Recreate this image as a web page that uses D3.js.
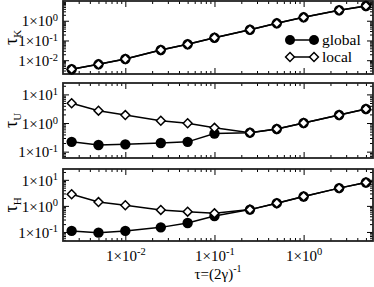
<!DOCTYPE html>
<html>
<head>
<meta charset="utf-8">
<script src="https://cdn.jsdelivr.net/npm/d3@7"></script>
<style>
  body { margin: 0; background: #fff; }
  svg { display: block; font-family: "Liberation Serif", "Times New Roman", serif; }
</style>
</head>
<body>
<div class="chart"></div>
<script>
const tau = [0.0025, 0.005, 0.01, 0.025, 0.05, 0.1, 0.25, 0.5, 1, 2.5, 5];

const kGlobal = [0.0035, 0.0062, 0.0115, 0.033, 0.064, 0.138, 0.35, 0.74, 1.49, 3.4, 5.6];
const kLocal  = [0.0035, 0.0062, 0.0115, 0.033, 0.064, 0.138, 0.35, 0.74, 1.49, 3.4, 5.6];

const uGlobal = [0.22, 0.17, 0.18, 0.20, 0.22, 0.43, 0.46, 0.62, 1.0, 1.9, 3.1];
const uLocal  = [4.9, 2.7, 1.9, 1.2, 0.98, 0.68, 0.46, 0.62, 1.0, 1.9, 3.1];

const hGlobal = [0.11, 0.094, 0.11, 0.15, 0.22, 0.41, 0.72, 1.27, 2.3, 4.8, 7.9];
const hLocal  = [2.8, 1.4, 1.06, 0.70, 0.60, 0.52, 0.72, 1.27, 2.3, 4.8, 7.9];

const xTicks = [0.01, 0.1, 1];
const legendLabels = ['global', 'local'];

const panels = [
  {name: 'K', top: 1, bottom: 74, domain: [0.002, 10], ticks: [0.01, 0.1, 1], global: kGlobal, local: kLocal},
  {name: 'U', top: 83, bottom: 158, domain: [0.06, 25], ticks: [0.1, 1, 10], global: uGlobal, local: uLocal},
  {name: 'H', top: 169, bottom: 241, domain: [0.045, 26], ticks: [0.1, 1, 10], global: hGlobal, local: hLocal}
];

const width = 374, height = 287;
const left = 63, right = 373;

const svg = d3.select('.chart').append('svg')
  .attr('width', width)
  .attr('height', height);

const x = d3.scaleLog().domain([0.002, 6]).range([left, right]);

function minorTicks(domain) {
  const out = [];
  for (let e = -4; e <= 2; e++) {
    for (let m = 2; m <= 9; m++) {
      const v = m * Math.pow(10, e);
      if (v > domain[0] && v < domain[1]) out.push(v);
    }
  }
  return out;
}

function exponentLabel(sel) {
  sel.each(function(d) {
    const t = d3.select(this);
    const e = Math.round(Math.log10(d));
    t.text(null);
    t.append('tspan').style('font-size', '15px').text('1\u00d710');
    t.append('tspan').attr('dy', '-0.5em').style('font-size', '10.5px').text(e);
  });
}

function styleAxis(g) {
  g.select('.domain').remove();
  g.selectAll('.tick line').attr('stroke', '#000').attr('stroke-width', 1);
}

const line = d3.line();
const diamond = d3.symbol().type(d3.symbolDiamond2).size(50);

panels.forEach((p, i) => {
  const y = d3.scaleLog().domain(p.domain).range([p.bottom, p.top]);
  const minors = minorTicks(p.domain);
  const xMinor = minorTicks(x.domain());

  // ticks on all four sides, pointing inward
  const axes = [
    [d3.axisBottom(x).tickValues(xTicks).tickSize(-6), `translate(0,${p.bottom})`],
    [d3.axisBottom(x).tickValues(xMinor).tickSize(-3), `translate(0,${p.bottom})`],
    [d3.axisTop(x).tickValues(xTicks).tickSize(-6), `translate(0,${p.top})`],
    [d3.axisTop(x).tickValues(xMinor).tickSize(-3), `translate(0,${p.top})`],
    [d3.axisLeft(y).tickValues(p.ticks).tickSize(-6).tickPadding(5), `translate(${left},0)`],
    [d3.axisLeft(y).tickValues(minors).tickSize(-3), `translate(${left},0)`],
    [d3.axisRight(y).tickValues(p.ticks).tickSize(-6), `translate(${right},0)`],
    [d3.axisRight(y).tickValues(minors).tickSize(-3), `translate(${right},0)`]
  ];
  axes.forEach(([ax, tr], j) => {
    const g = svg.append('g').attr('transform', tr).call(ax).call(styleAxis);
    g.attr('font-family', null).attr('font-size', 15);
    g.selectAll('text').text('');
    if (j === 4) {
      g.selectAll('.tick text')
        .attr('fill', '#000')
        .attr('dy', '0.35em')
        .call(exponentLabel);
    }
    if (j === 0 && i === panels.length - 1) {
      g.selectAll('.tick text')
        .attr('fill', '#000')
        .attr('y', 6)
        .attr('dy', '0.9em')
        .call(exponentLabel);
    }
  });

  svg.append('rect')
    .attr('x', left).attr('y', p.top)
    .attr('width', right - left).attr('height', p.bottom - p.top)
    .attr('fill', 'none').attr('stroke', '#222').attr('stroke-width', 1.8);

  // y title
  const yt = svg.append('text')
    .attr('transform', `translate(17,${(p.top + p.bottom) / 2}) rotate(-90)`)
    .attr('text-anchor', 'middle')
    .attr('font-size', 18);
  yt.append('tspan').text('\u03c4');
  yt.append('tspan').attr('dy', 4).attr('font-size', 11).text(p.name);

  const gPts = p.global.map((v, k) => [x(tau[k]), y(v)]);
  const lPts = p.local.map((v, k) => [x(tau[k]), y(v)]);

  svg.append('path').attr('d', line(gPts))
    .attr('fill', 'none').attr('stroke', '#000').attr('stroke-width', 1.5);
  svg.append('path').attr('d', line(lPts))
    .attr('fill', 'none').attr('stroke', '#000').attr('stroke-width', 1.5);

  svg.append('g').selectAll('circle').data(gPts).enter().append('circle')
    .attr('cx', d => d[0]).attr('cy', d => d[1]).attr('r', 5.2)
    .attr('fill', '#000');
  svg.append('g').selectAll('path').data(lPts).enter().append('path')
    .attr('d', diamond)
    .attr('transform', d => `translate(${d[0]},${d[1]})`)
    .attr('fill', '#fff').attr('stroke', '#000').attr('stroke-width', 1.5);
});

// legend
const leg = svg.append('g');
legendLabels.forEach((lab, i) => {
  const ly = 40 + i * 17;
  leg.append('line').attr('x1', 290).attr('x2', 314).attr('y1', ly).attr('y2', ly)
    .attr('stroke', '#000').attr('stroke-width', 1.5);
  [290, 314].forEach(lx => {
    if (i === 0) {
      leg.append('circle').attr('cx', lx).attr('cy', ly).attr('r', 5).attr('fill', '#000');
    } else {
      leg.append('path').attr('d', diamond).attr('transform', `translate(${lx},${ly})`)
        .attr('fill', '#fff').attr('stroke', '#000').attr('stroke-width', 1.5);
    }
  });
  leg.append('text').attr('x', 322).attr('y', ly).attr('dy', '0.32em')
    .attr('font-size', 15.5).text(lab);
});

// x title
const xt = svg.append('text')
  .attr('x', 218).attr('y', 279)
  .attr('text-anchor', 'middle')
  .attr('font-size', 15);
xt.append('tspan').text('\u03c4=(2\u03b3)');
xt.append('tspan').attr('dy', -7).attr('font-size', 10).text('-1');
</script>
</body>
</html>
